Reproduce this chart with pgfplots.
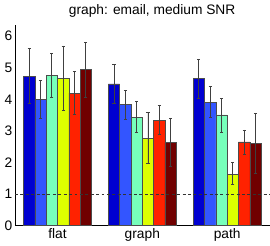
\documentclass[border=0pt]{standalone}
\usepackage{pgfplots}
\pgfplotsset{compat=1.18}
\usepackage{pgfplotstable}
\usepackage{fontspec}
\setmainfont{Liberation Sans}
\definecolor{c1}{HTML}{0000D0}
\definecolor{c2}{HTML}{3355FF}
\definecolor{c3}{HTML}{77FFBB}
\definecolor{c4}{HTML}{DDFF00}
\definecolor{c5}{HTML}{FF2200}
\definecolor{c6}{HTML}{700000}
\pgfplotstableread{
x y ep em
1 4.73 0.88 0.86
2 4.49 0.62 0.63
3 4.66 0.61 0.62
}\tA
\pgfplotstableread{
x y ep em
1 4.00 0.59 0.59
2 3.83 0.45 0.46
3 3.91 0.50 0.49
}\tB
\pgfplotstableread{
x y ep em
1 4.76 0.69 0.68
2 3.44 0.50 0.49
3 3.51 0.53 0.54
}\tC
\pgfplotstableread{
x y ep em
1 4.67 1.02 1.01
2 2.77 0.82 0.81
3 1.63 0.37 0.33
}\tD
\pgfplotstableread{
x y ep em
1 4.20 0.69 0.66
2 3.34 0.47 0.46
3 2.65 0.38 0.40
}\tE
\pgfplotstableread{
x y ep em
1 4.95 0.85 0.87
2 2.63 0.78 0.76
3 2.61 0.95 0.94
}\tF
\begin{document}
\fontsize{14}{16}\selectfont
\begin{tikzpicture}
\begin{axis}[
  scale only axis,
  width=259pt, height=204pt,
  xmin=0.5, xmax=3.5, ymin=0, ymax=6.35,
  ybar=0pt, bar width=0.1333,
  axis x line*=bottom, axis y line*=left,
  axis line style={black, line width=0.8pt},
  xtick={1,2,3}, xticklabels={flat,graph,path},
  ytick={0,1,2,3,4,5,6},
  major tick length=0pt,
  yticklabel style={xshift=2pt},
  xticklabel style={yshift=2pt},
  /pgf/number format/assume math mode=true,
  ticklabel style={font=\fontsize{14}{16}\selectfont},
  title={graph: email, medium SNR},
  title style={font=\fontsize{14}{16}\selectfont, yshift=-3pt, xshift=10pt},
  clip=false,
  mybar/.style={draw=black!70, line width=0.6pt,
    error bars/y dir=both, error bars/y explicit,
    error bars/error bar style={black!75, line width=0.9pt},
    error bars/error mark options={rotate=90, mark size=1.6pt, black!75, line width=0.6pt}},
]
\addplot[mybar, fill=c1, bar shift=-0.3333] table[x=x,y=y,y error plus=ep,y error minus=em]{\tA};
\addplot[mybar, fill=c2, bar shift=-0.2] table[x=x,y=y,y error plus=ep,y error minus=em]{\tB};
\addplot[mybar, fill=c3, bar shift=-0.0667] table[x=x,y=y,y error plus=ep,y error minus=em]{\tC};
\addplot[mybar, fill=c4, bar shift=0.0667] table[x=x,y=y,y error plus=ep,y error minus=em]{\tD};
\addplot[mybar, fill=c5, bar shift=0.2] table[x=x,y=y,y error plus=ep,y error minus=em]{\tE};
\addplot[mybar, fill=c6, bar shift=0.3333] table[x=x,y=y,y error plus=ep,y error minus=em]{\tF};
\addplot[sharp plot, black!80, line width=0.8pt, dash pattern=on 3pt off 2.5pt, forget plot] coordinates {(0.5,1) (3.5,1)};
\end{axis}
\end{tikzpicture}
\end{document}
